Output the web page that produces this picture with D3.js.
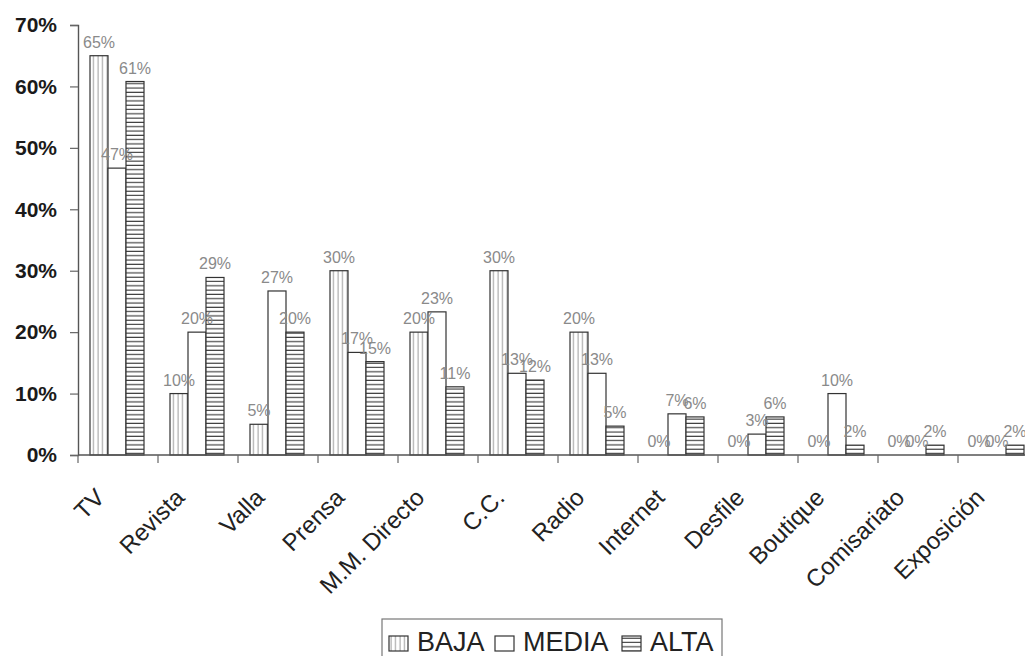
<!DOCTYPE html>
<html>
<head>
<meta charset="utf-8">
<script src="https://cdn.jsdelivr.net/npm/d3@7"></script>
<style>
  body { margin: 0; background: #fff; }
  svg { display: block; font-family: "Liberation Sans", Arial, sans-serif; }
</style>
</head>
<body>
<script>
const categories = ["TV", "Revista", "Valla", "Prensa", "M.M. Directo", "C.C.", "Radio",
  "Internet", "Desfile", "Boutique", "Comisariato", "Exposición"];
const series = ["BAJA", "MEDIA", "ALTA"];
const baja = [0.65, 0.10, 0.05, 0.30, 0.20, 0.30, 0.20, 0, 0, 0, 0, 0];
const media = [0.467, 0.20, 0.267, 0.167, 0.233, 0.133, 0.133, 0.067, 0.034, 0.10, 0, 0];
const alta = [0.608, 0.289, 0.20, 0.152, 0.111, 0.122, 0.047, 0.062, 0.062, 0.016, 0.016, 0.016];
const yTicks = [0, 0.1, 0.2, 0.3, 0.4, 0.5, 0.6, 0.7];

const width = 1025, height = 656;
const values = { BAJA: baja, MEDIA: media, ALTA: alta };

const svg = d3.select("body").append("svg")
  .attr("width", width)
  .attr("height", height);

// hatch patterns like the old excel print
const defs = svg.append("defs");
defs.append("pattern")
  .attr("id", "p-baja")
  .attr("patternUnits", "userSpaceOnUse")
  .attr("width", 4.5).attr("height", 4)
  .call(p => {
    p.append("rect").attr("width", 4.5).attr("height", 4).attr("fill", "#fff");
    p.append("line").attr("x1", 2).attr("x2", 2).attr("y1", 0).attr("y2", 4)
      .attr("stroke", "#888").attr("stroke-width", 0.9);
  });
defs.append("pattern")
  .attr("id", "p-alta")
  .attr("patternUnits", "userSpaceOnUse")
  .attr("width", 4).attr("height", 4.3)
  .call(p => {
    p.append("rect").attr("width", 4).attr("height", 4.3).attr("fill", "#fff");
    p.append("line").attr("x1", 0).attr("x2", 4).attr("y1", 2).attr("y2", 2)
      .attr("stroke", "#333").attr("stroke-width", 1.1);
  });

const fills = { BAJA: "url(#p-baja)", MEDIA: "#fff", ALTA: "url(#p-alta)" };

const x = d3.scaleBand()
  .domain(categories)
  .range([78, 78 + 80 * categories.length]);

const xs = d3.scaleBand()
  .domain(series)
  .range([12, 66]);

const y = d3.scaleLinear()
  .domain([0, 0.7])
  .range([455, 25]);

// y axis
const yAxis = svg.append("g")
  .attr("transform", "translate(78,0)")
  .call(d3.axisLeft(y).tickValues(yTicks).tickFormat(d3.format(".0%")).tickSize(8).tickPadding(13));
yAxis.select(".domain").attr("stroke", "#555").attr("stroke-width", 1.4);
yAxis.selectAll(".tick line").attr("stroke", "#666").attr("stroke-width", 1.2);
yAxis.selectAll(".tick text")
  .attr("font-size", 21)
  .attr("font-weight", "bold")
  .attr("fill", "#1a1a1a");

// bars
const groups = svg.append("g")
  .selectAll("g")
  .data(categories)
  .join("g")
  .attr("transform", d => `translate(${x(d)},0)`);

groups.selectAll("rect")
  .data((c, i) => series.map(s => ({ s, v: values[s][i] })))
  .join("rect")
  .attr("x", d => xs(d.s))
  .attr("width", xs.bandwidth())
  .attr("y", d => y(d.v))
  .attr("height", d => y(0) - y(d.v))
  .attr("fill", d => fills[d.s])
  .attr("stroke", d => d.v > 0 ? "#333" : "none")
  .attr("stroke-width", 1.2);

groups.selectAll("text")
  .data((c, i) => series.map(s => ({ s, v: values[s][i] })))
  .join("text")
  .attr("x", d => xs(d.s) + xs.bandwidth() / 2)
  .attr("y", d => y(d.v) - 8)
  .attr("text-anchor", "middle")
  .attr("font-size", 16)
  .attr("fill", "#8a8a8a")
  .text(d => d3.format(".0%")(d.v));

// x axis
const xAxis = svg.append("g");
xAxis.append("line")
  .attr("x1", 78).attr("x2", width)
  .attr("y1", y(0)).attr("y2", y(0))
  .attr("stroke", "#555").attr("stroke-width", 1.4);
xAxis.selectAll("line.tick")
  .data(categories)
  .join("line")
  .attr("class", "tick")
  .attr("x1", d => x(d)).attr("x2", d => x(d))
  .attr("y1", y(0)).attr("y2", y(0) + 8)
  .attr("stroke", "#666").attr("stroke-width", 1.2);

xAxis.selectAll("text")
  .data(categories)
  .join("text")
  .attr("transform", d => `translate(${x(d) + x.bandwidth() / 2 - 12},499) rotate(-45)`)
  .attr("text-anchor", "end")
  .attr("font-size", 24)
  .attr("fill", "#222")
  .text(d => d);

// legend
const legend = svg.append("g").attr("transform", "translate(382,619)");
legend.append("rect")
  .attr("x", 0).attr("y", 0)
  .attr("width", 340).attr("height", 60)
  .attr("fill", "#fff")
  .attr("stroke", "#777").attr("stroke-width", 1.2);

const itemX = { BAJA: 7, MEDIA: 113, ALTA: 240 };
const item = legend.selectAll("g.item")
  .data(series)
  .join("g")
  .attr("class", "item")
  .attr("transform", d => `translate(${itemX[d]},0)`);
item.append("rect")
  .attr("x", 0).attr("y", 17)
  .attr("width", 19).attr("height", 15)
  .attr("fill", d => fills[d])
  .attr("stroke", "#333").attr("stroke-width", 1.2);
item.append("text")
  .attr("x", 28).attr("y", 32)
  .attr("font-size", 27)
  .attr("fill", "#222")
  .text(d => d);
</script>
</body>
</html>
